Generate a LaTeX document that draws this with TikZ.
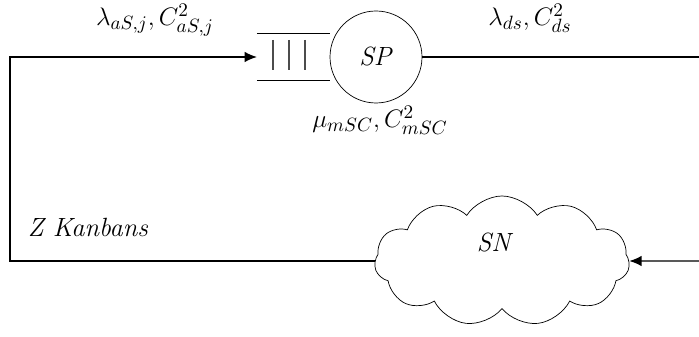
\documentclass[tikz,border=0pt]{standalone}
\usetikzlibrary{shapes.symbols,arrows.meta}

\begin{document}
\begin{tikzpicture}[x=0.02cm,y=-0.02cm,
		every node/.style={font=\fontsize{15}{17}\selectfont},
		link/.style={draw,thick},
		flow/.style={link,-{Latex[length=7pt,width=6pt]}}]
				\useasboundingbox (0,0) rectangle (699,337);

				% station: buffer + server
				\node[circle,draw,minimum size=92*0.02cm,inner sep=0pt] (sp) at (376,57) {\textit{SP}};
				\node[minimum width=72*0.02cm,minimum height=47*0.02cm,inner sep=0pt,anchor=east] (q) at (sp.west) {};
				\draw (q.north west) -- (q.north east);
				\draw (q.south west) -- (q.south east);
				\foreach \bx in {273,289,305}
					\draw[very thick,gray!60!black] (\bx,40) -- (\bx,70);

				% supplier network
				\node[cloud,draw,cloud puffs=11,cloud puff arc=115,aspect=2,
				      minimum width=255*0.02cm,minimum height=130*0.02cm] (sn) at (502,261) {};
				\node at (495,243) {\textit{SN}};

				\coordinate (lc) at (10,57);
				\coordinate (ro) at (699,57);
				\coordinate (ri) at (699,261);

				\begin{scope}
					\draw[flow] (sn.west) -| (lc) -- (q.west);
					\path[link] (sp.east) -- (ro);
					\draw[flow] (ri) -- (sn.east);
				\end{scope}

				% rates and variabilities
				\node at (155,20) {$\lambda_{aS,j},C^2_{aS,j}$};
				\node at (530,18) {$\lambda_{ds},C^2_{ds}$};
				\node at (380,120) {$\mu_{mSC},C^2_{mSC}$};
				\node at (88,227) {\textit{Z Kanbans}};
			\end{tikzpicture}
\end{document}
